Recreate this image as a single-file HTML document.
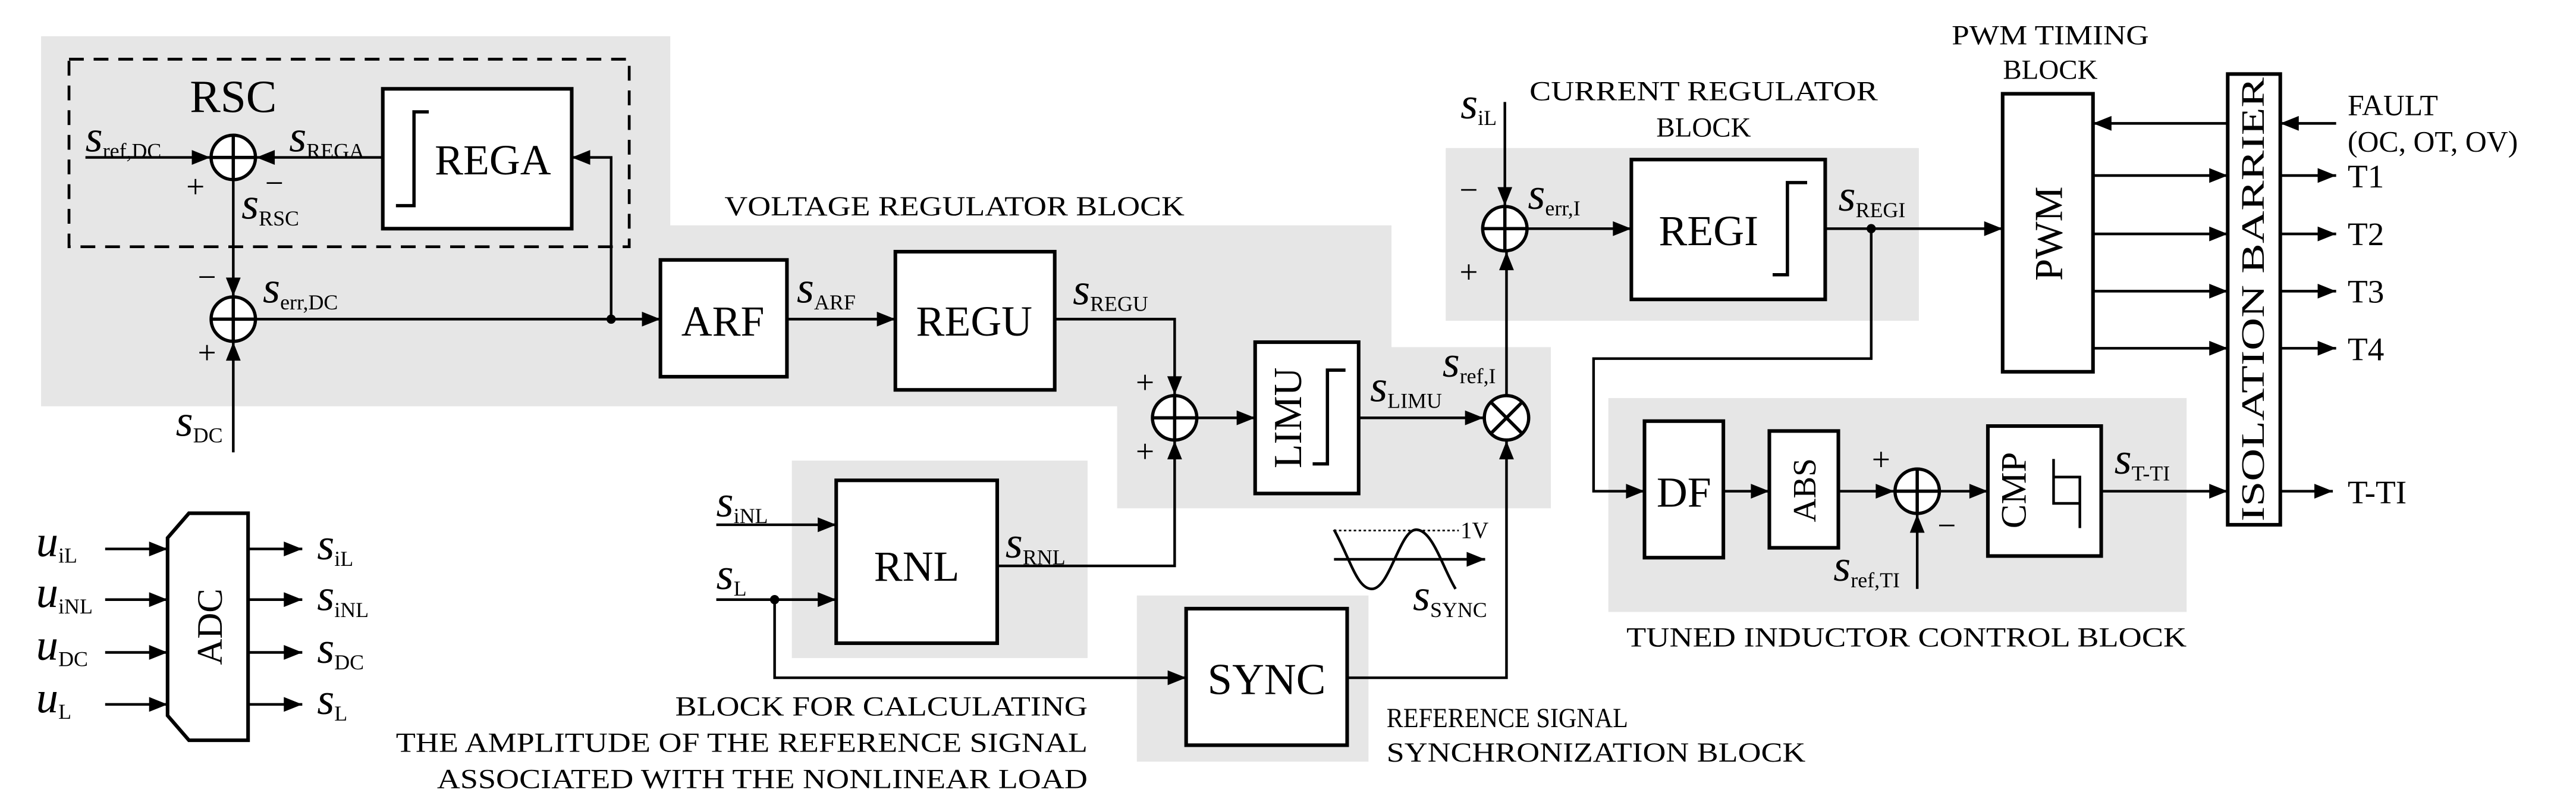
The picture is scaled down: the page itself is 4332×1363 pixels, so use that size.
<!DOCTYPE html>
<html><head><meta charset="utf-8"><style>
html,body{margin:0;padding:0;background:#fff;}
svg{display:block;}
text{font-family:"Liberation Serif",serif;fill:#000;}
.s{font-style:italic;font-size:27px;}
.sub{font-style:normal;font-size:13px;}
.blk{font-size:26px;}
.cap{font-size:17px;}
</style></head><body>
<svg width="4332" height="1363" viewBox="0 0 1568 493" preserveAspectRatio="none" xmlns="http://www.w3.org/2000/svg">
<defs>
<marker id="a" viewBox="0 0 10 8" refX="10" refY="4" markerWidth="13" markerHeight="9" markerUnits="userSpaceOnUse" orient="auto"><path d="M0,0L10,4L0,8z" fill="#000"/></marker>
</defs>
<g fill="#e6e6e6">
<path d="M25,22H408V137H847V211H944V309H680V247H25Z"/>
<rect x="880" y="90" width="288" height="105"/>
<rect x="482" y="280" width="180" height="120"/>
<rect x="692" y="362" width="141" height="101"/>
<rect x="979" y="242" width="352" height="130"/>
</g>
<rect x="42" y="36" width="341" height="114" fill="none" stroke="#000" stroke-width="1.7" stroke-dasharray="9,6"/>
<g fill="#fff" stroke="#000" stroke-width="2.2">
<rect x="233" y="54" width="115" height="85"/>
<rect x="402" y="158" width="77" height="71"/>
<rect x="545" y="153" width="97" height="84"/>
<rect x="764" y="208" width="63" height="92"/>
<rect x="993" y="97" width="118" height="85"/>
<rect x="1219" y="57" width="55" height="169"/>
<rect x="1356" y="45" width="32" height="274"/>
<rect x="509" y="292" width="98" height="99"/>
<rect x="722" y="370" width="98" height="83"/>
<rect x="1001" y="256" width="48" height="83"/>
<rect x="1077" y="262" width="42" height="71"/>
<rect x="1210" y="259" width="69" height="79"/>
<path d="M115,312H151V450H115L102,435V327Z"/>
</g>
<g fill="none" stroke="#000" stroke-width="1.6">
<path d="M52,95.7H128" marker-end="url(#a)"/>
<path d="M233,95.7H156" marker-end="url(#a)"/>
<path d="M142,109.7V180" marker-end="url(#a)"/>
<path d="M142,275V208" marker-end="url(#a)"/>
<path d="M156,194H402" marker-end="url(#a)"/>
<path d="M372,194V95.7H348" marker-end="url(#a)"/>
<path d="M479,194H545" marker-end="url(#a)"/>
<path d="M642,194H715V240" marker-end="url(#a)"/>
<path d="M607,344H715V268" marker-end="url(#a)"/>
<path d="M729,254H764" marker-end="url(#a)"/>
<path d="M827,254H903" marker-end="url(#a)"/>
<path d="M820,412H917V268" marker-end="url(#a)"/>
<path d="M917,240V153" marker-end="url(#a)"/>
<path d="M916,62V125" marker-end="url(#a)"/>
<path d="M930,139H993" marker-end="url(#a)"/>
<path d="M1111,139H1219" marker-end="url(#a)"/>
<path d="M1139,139V218H970V298.6H1001" marker-end="url(#a)"/>
<path d="M1049,298.6H1077" marker-end="url(#a)"/>
<path d="M1119,298.6H1153" marker-end="url(#a)"/>
<path d="M1181,298.6H1210" marker-end="url(#a)"/>
<path d="M1167,358V312.6" marker-end="url(#a)"/>
<path d="M1279,298.6H1356" marker-end="url(#a)"/>
<path d="M1388,298.6H1420" marker-end="url(#a)"/>
<path d="M1422,75H1388" marker-end="url(#a)"/>
<path d="M1356,75H1274" marker-end="url(#a)"/>
<path d="M1274,106.7H1356" marker-end="url(#a)"/><path d="M1388,106.7H1422" marker-end="url(#a)"/>
<path d="M1274,142.2H1356" marker-end="url(#a)"/><path d="M1388,142.2H1422" marker-end="url(#a)"/>
<path d="M1274,177H1356" marker-end="url(#a)"/><path d="M1388,177H1422" marker-end="url(#a)"/>
<path d="M1274,211.7H1356" marker-end="url(#a)"/><path d="M1388,211.7H1422" marker-end="url(#a)"/>
<path d="M436,319H509" marker-end="url(#a)"/>
<path d="M436,364.5H509" marker-end="url(#a)"/>
<path d="M471.5,364.5V412H722" marker-end="url(#a)"/>
<path d="M64,333.7H102" marker-end="url(#a)"/><path d="M151,333.7H184" marker-end="url(#a)"/>
<path d="M64,364.5H102" marker-end="url(#a)"/><path d="M151,364.5H184" marker-end="url(#a)"/>
<path d="M64,396.6H102" marker-end="url(#a)"/><path d="M151,396.6H184" marker-end="url(#a)"/>
<path d="M64,428.2H102" marker-end="url(#a)"/><path d="M151,428.2H184" marker-end="url(#a)"/>
<path d="M812,340H904" marker-end="url(#a)"/>
<path d="M812,322 C822,340 826,358 835,358 C846,358 852,322 862,322 C872,322 878,345 886,358"/>
<path d="M812,322.5H888" stroke-dasharray="1.5,1.5" stroke-width="1"/>
<path d="M261,68H252V125H241" stroke-width="2"/>
<path d="M1100,111H1088V167H1079" stroke-width="2"/>
<path d="M819,225H808V282H799" stroke-width="2"/>
<path d="M1250,279V306H1266V290H1250M1266,306V321" stroke-width="1.6"/>
</g>
<g fill="#000"><circle cx="372" cy="194" r="2.8"/><circle cx="1139" cy="139" r="2.8"/><circle cx="471.5" cy="364.5" r="2.8"/></g>
<g fill="#fff" stroke="#000" stroke-width="2">
<circle cx="142" cy="95.7" r="13.5"/><path d="M128.5,95.7H155.5M142,82.2V109.2"/>
<circle cx="142" cy="194" r="13.5"/><path d="M128.5,194H155.5M142,180.5V207.5"/>
<circle cx="715" cy="254" r="13.5"/><path d="M701.5,254H728.5M715,240.5V267.5"/>
<circle cx="916" cy="139" r="13.5"/><path d="M902.5,139H929.5M916,125.5V152.5"/>
<circle cx="1167" cy="298.6" r="13.5"/><path d="M1153.5,298.6H1180.5M1167,285.1V312.1"/>
<circle cx="917" cy="254" r="13.5"/><path d="M907.5,244.5L926.5,263.5M926.5,244.5L907.5,263.5"/>
</g>
<g class="blk" text-anchor="middle">
<text x="300" y="106">REGA</text>
<text x="440" y="204">ARF</text>
<text x="593" y="204">REGU</text>
<text x="1040" y="149">REGI</text>
<text x="558" y="353">RNL</text>
<text x="771" y="422" style="font-size:27px">SYNC</text>
<text x="1025" y="308">DF</text>
<text x="142" y="68" style="font-size:28px">RSC</text>
<text transform="translate(792,254) rotate(-90)" style="font-size:24px">LIMU</text>
<text transform="translate(1255,142) rotate(-90)" style="font-size:24px">PWM</text>
<text transform="translate(1105,298) rotate(-90)" style="font-size:20px">ABS</text>
<text transform="translate(1233,298) rotate(-90)" style="font-size:22px">CMP</text>
<text transform="translate(135,381) rotate(-90)" style="font-size:22px">ADC</text>
<text transform="translate(1378,182) rotate(-90)" style="font-size:20px" textLength="270" lengthAdjust="spacingAndGlyphs">ISOLATION BARRIER</text>
</g>
<g style="font-size:20px" text-anchor="middle">
<text x="119" y="120">+</text><text x="167" y="118">−</text>
<text x="126" y="175">−</text><text x="126" y="221">+</text>
<text x="697" y="239">+</text><text x="697" y="281">+</text>
<text x="894" y="122">−</text><text x="894" y="172">+</text>
<text x="1145" y="286">+</text><text x="1185" y="326">−</text>
</g>
<text class="s" x="52" y="92">s<tspan class="sub" dy="4">ref,DC</tspan></text>
<text class="s" x="176" y="92">s<tspan class="sub" dy="4">REGA</tspan></text>
<text class="s" x="147" y="133">s<tspan class="sub" dy="4">RSC</tspan></text>
<text class="s" x="160" y="184">s<tspan class="sub" dy="4">err,DC</tspan></text>
<text class="s" x="107" y="265">s<tspan class="sub" dy="4">DC</tspan></text>
<text class="s" x="485" y="184">s<tspan class="sub" dy="4">ARF</tspan></text>
<text class="s" x="653" y="185">s<tspan class="sub" dy="4">REGU</tspan></text>
<text class="s" x="834" y="244">s<tspan class="sub" dy="4">LIMU</tspan></text>
<text class="s" x="878" y="229">s<tspan class="sub" dy="4">ref,I</tspan></text>
<text class="s" x="889" y="72">s<tspan class="sub" dy="4">iL</tspan></text>
<text class="s" x="930" y="127">s<tspan class="sub" dy="4">err,I</tspan></text>
<text class="s" x="1119" y="128">s<tspan class="sub" dy="4">REGI</tspan></text>
<text class="s" x="436" y="314">s<tspan class="sub" dy="4">iNL</tspan></text>
<text class="s" x="436" y="358">s<tspan class="sub" dy="4">L</tspan></text>
<text class="s" x="612" y="339">s<tspan class="sub" dy="4">RNL</tspan></text>
<text class="s" x="860" y="371">s<tspan class="sub" dy="4">SYNC</tspan></text>
<text class="s" x="1287" y="288">s<tspan class="sub" dy="4">T-TI</tspan></text>
<text class="s" x="1116" y="353">s<tspan class="sub" dy="4">ref,TI</tspan></text>
<text x="889" y="327" style="font-size:14px">1V</text>
<text class="s" x="22" y="338">u<tspan class="sub" dy="4">iL</tspan></text>
<text class="s" x="22" y="369">u<tspan class="sub" dy="4">iNL</tspan></text>
<text class="s" x="22" y="401">u<tspan class="sub" dy="4">DC</tspan></text>
<text class="s" x="22" y="433">u<tspan class="sub" dy="4">L</tspan></text>
<text class="s" x="193" y="340">s<tspan class="sub" dy="4">iL</tspan></text>
<text class="s" x="193" y="371">s<tspan class="sub" dy="4">iNL</tspan></text>
<text class="s" x="193" y="403">s<tspan class="sub" dy="4">DC</tspan></text>
<text class="s" x="193" y="434">s<tspan class="sub" dy="4">L</tspan></text>
<g style="font-size:20px">
<text x="1429" y="114">T1</text><text x="1429" y="149">T2</text>
<text x="1429" y="184">T3</text><text x="1429" y="219">T4</text>
<text x="1429" y="306">T-TI</text>
<text x="1429" y="70" style="font-size:18px">FAULT</text>
<text x="1429" y="92" style="font-size:18px">(OC, OT, OV)</text>
</g>
<g class="cap">
<text x="441" y="131" textLength="280" lengthAdjust="spacingAndGlyphs">VOLTAGE REGULATOR BLOCK</text>
<text x="931" y="61" textLength="212" lengthAdjust="spacingAndGlyphs">CURRENT REGULATOR</text>
<text x="1037" y="83" text-anchor="middle">BLOCK</text>
<text x="1188" y="27" textLength="120" lengthAdjust="spacingAndGlyphs">PWM TIMING</text>
<text x="1248" y="48" text-anchor="middle">BLOCK</text>
<text x="990" y="393" textLength="341" lengthAdjust="spacingAndGlyphs">TUNED INDUCTOR CONTROL BLOCK</text>
<text x="844" y="442" textLength="147" lengthAdjust="spacingAndGlyphs">REFERENCE SIGNAL</text>
<text x="844" y="463" textLength="255" lengthAdjust="spacingAndGlyphs">SYNCHRONIZATION BLOCK</text>
<text x="411" y="435" textLength="251" lengthAdjust="spacingAndGlyphs">BLOCK FOR CALCULATING</text>
<text x="241" y="457" textLength="421" lengthAdjust="spacingAndGlyphs">THE AMPLITUDE OF THE REFERENCE SIGNAL</text>
<text x="266" y="479" textLength="396" lengthAdjust="spacingAndGlyphs">ASSOCIATED WITH THE NONLINEAR LOAD</text>
</g>
</svg>
</body></html>
